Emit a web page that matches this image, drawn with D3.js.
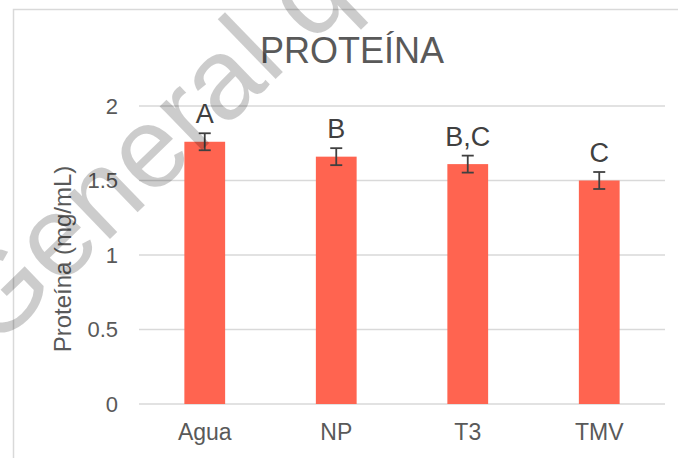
<!DOCTYPE html>
<html>
<head>
<meta charset="utf-8">
<script src="https://cdn.jsdelivr.net/npm/d3@7"></script>
<style>
  body { margin: 0; background: #fff; }
  text { font-family: "Liberation Sans", Arial, sans-serif; }
</style>
</head>
<body>
<div id="chart"></div>
<script>
// data
const categories = ["Agua", "NP", "T3", "TMV"];
const values = [1.76, 1.66, 1.61, 1.50];
const errors = [0.057, 0.057, 0.057, 0.057];
const letters = ["A", "B", "B,C", "C"];
const yTicks = [0, 0.5, 1, 1.5, 2];

const width = 678;
const height = 458;

const svg = d3.select("#chart")
    .append("svg")
    .attr("width", width)
    .attr("height", height);

// chart area border (runs off right and bottom)
svg.append("rect")
    .attr("x", 13.5).attr("y", 9.5)
    .attr("width", 700).attr("height", 500)
    .attr("fill", "none")
    .attr("stroke", "#d9d9d9")
    .attr("stroke-width", 1.5);

const x = d3.scaleBand()
    .domain(categories)
    .range([139, 665])
    .paddingInner(0.69)
    .paddingOuter(0.345);

const y = d3.scaleLinear()
    .domain([0, 2])
    .range([404, 106]);

// gridlines
svg.append("g")
  .selectAll("line")
  .data(yTicks)
  .join("line")
    .attr("x1", 139).attr("x2", 665)
    .attr("y1", d => y(d)).attr("y2", d => y(d))
    .attr("stroke", "#d9d9d9")
    .attr("stroke-width", 1.5);

// y tick labels
svg.append("g")
  .selectAll("text")
  .data(yTicks)
  .join("text")
    .attr("x", 118)
    .attr("y", d => y(d))
    .attr("dy", "0.36em")
    .attr("text-anchor", "end")
    .attr("font-size", 22)
    .attr("fill", "#595959")
    .text(d => d);

// category labels
svg.append("g")
  .selectAll("text")
  .data(categories)
  .join("text")
    .attr("x", d => x(d) + x.bandwidth() / 2)
    .attr("y", 440)
    .attr("text-anchor", "middle")
    .attr("font-size", 23)
    .attr("fill", "#595959")
    .text(d => d);

// bars
svg.append("g")
  .selectAll("rect")
  .data(values)
  .join("rect")
    .attr("x", (d, i) => x(categories[i]))
    .attr("y", d => y(d))
    .attr("width", x.bandwidth())
    .attr("height", d => y(0) - y(d))
    .attr("fill", "#ff6450");

// error bars
const eb = svg.append("g")
    .attr("stroke", "#404040")
    .attr("stroke-width", 1.8);
values.forEach((v, i) => {
  const cx = x(categories[i]) + x.bandwidth() / 2;
  const lo = y(v - errors[i]), hi = y(v + errors[i]);
  eb.append("line").attr("x1", cx).attr("x2", cx).attr("y1", lo).attr("y2", hi);
  eb.append("line").attr("x1", cx - 6).attr("x2", cx + 6).attr("y1", lo).attr("y2", lo);
  eb.append("line").attr("x1", cx - 6).attr("x2", cx + 6).attr("y1", hi).attr("y2", hi);
});

// significance letters
svg.append("g")
  .selectAll("text")
  .data(letters)
  .join("text")
    .attr("x", (d, i) => x(categories[i]) + x.bandwidth() / 2)
    .attr("y", (d, i) => y(values[i] + errors[i]) - 10)
    .attr("text-anchor", "middle")
    .attr("font-size", 27)
    .attr("fill", "#404040")
    .text(d => d);

// title
svg.append("text")
    .attr("x", 352)
    .attr("y", 63)
    .attr("text-anchor", "middle")
    .attr("font-size", 36)
    .attr("fill", "#595959")
    .text("PROTEÍNA");

// y axis title
svg.append("text")
    .attr("transform", "translate(71,259) rotate(-90)")
    .attr("text-anchor", "middle")
    .attr("font-size", 24)
    .attr("fill", "#595959")
    .text("Proteína (mg/mL)");

// watermark over everything
svg.append("text")
    .attr("transform", "translate(-6,351) rotate(-44)")
    .attr("font-size", 115)
    .attr("fill", "#000")
    .attr("fill-opacity", 0.2)
    .text("General q");
</script>
</body>
</html>
